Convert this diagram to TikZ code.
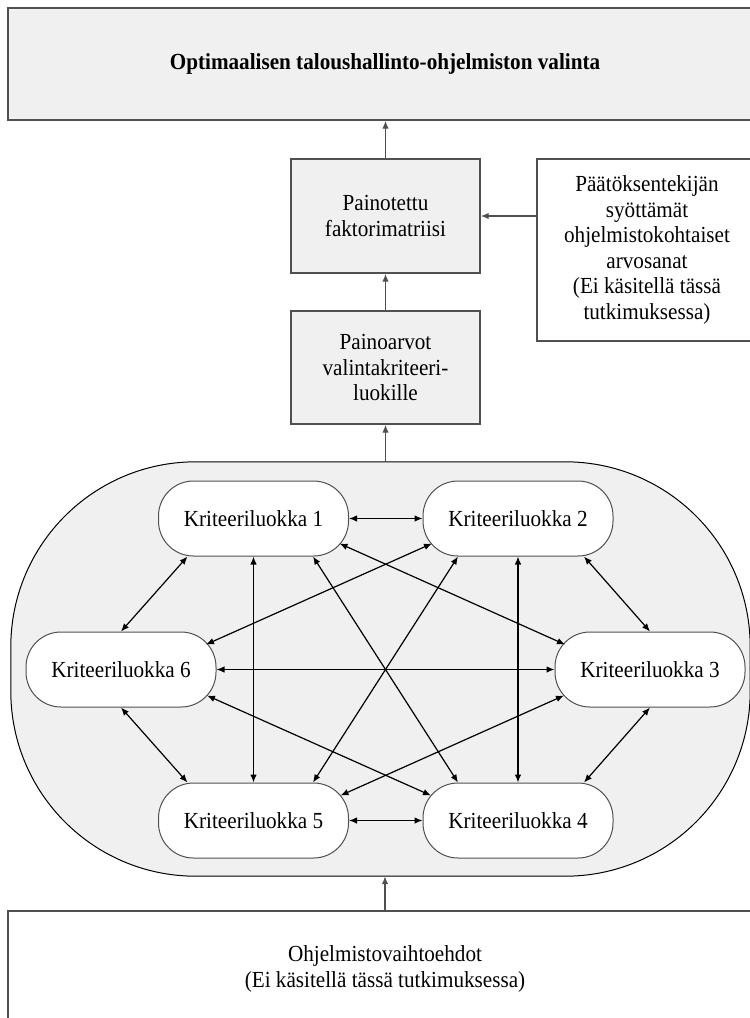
\documentclass[tikz,border=0pt]{standalone}
\usepackage{fontspec}
\setmainfont{Liberation Serif}[FakeStretch=0.92]
\usetikzlibrary{arrows.meta,calc}
\definecolor{boxfill}{HTML}{F0F0F0}
\definecolor{boxline}{HTML}{505050}
\begin{document}
\begin{tikzpicture}[x=1pt,y=-1pt,
  >={Latex[length=8pt,width=6.5pt]},
  every node/.style={font=\fontsize{23}{25.5}\selectfont, align=center, inner sep=0pt},
  greybox/.style={draw=boxline, line width=1.4pt, fill=boxfill},
  whitebox/.style={draw=boxline, line width=1.4pt, fill=white},
  crit/.style={draw=boxline, line width=1pt, fill=white, rounded corners=35pt,
               minimum width=190pt, minimum height=75pt},
  contline/.style={draw=black, line width=1pt, fill=boxfill},
  flow/.style={->, draw=boxline, line width=1.4pt},
  link/.style={<->, line width=1.2pt},
]
\useasboundingbox (0,0) rectangle (750,1018);
\fill[white] (0,0) rectangle (750,1018);

% upper chain
\node[greybox, minimum width=754pt, minimum height=112pt,
      font=\bfseries\fontsize{23}{25.5}\selectfont] (goal) at (385,64)
  {Optimaalisen taloushallinto-ohjelmiston valinta};
\node[greybox, minimum width=189pt, minimum height=114pt] (matrix) at (385.5,216)
  {Painotettu\\faktorimatriisi};
\node[whitebox, minimum width=220pt, minimum height=182pt] (grades) at (647,250)
  {Päätöksentekijän\\syöttämät\\ohjelmistokohtaiset\\arvosanat\\(Ei käsitellä tässä\\tutkimuksessa)};
\node[greybox, minimum width=189pt, minimum height=113pt] (weights) at (385.5,367.5)
  {Painoarvot\\valintakriteeri-\\luokille};

% container (outline drawn explicitly with large corner arcs)
\node[minimum width=739pt, minimum height=414pt] (cont) at (380.5,669) {};
\begin{scope}[y=1pt]
\draw[contline]
  ($(cont.north west)+(185,0)$) -- ($(cont.north east)+(-185,0)$)
  arc[start angle=90, end angle=0, radius=185pt]
  -- ($(cont.south east)+(0,185)$)
  arc[start angle=0, end angle=-90, radius=185pt]
  -- ($(cont.south west)+(185,0)$)
  arc[start angle=270, end angle=180, radius=185pt]
  -- ($(cont.north west)+(0,-185)$)
  arc[start angle=180, end angle=90, radius=185pt]
  -- cycle;
\end{scope}

% criteria classes
\node[crit] (K1) at (253.5,518.5) {Kriteeriluokka 1};
\node[crit] (K2) at (518,518.5)   {Kriteeriluokka 2};
\node[crit] (K3) at (650,669.5)   {Kriteeriluokka 3};
\node[crit] (K4) at (518,820.5)   {Kriteeriluokka 4};
\node[crit] (K5) at (253.5,820.5) {Kriteeriluokka 5};
\node[crit] (K6) at (121,669.5)   {Kriteeriluokka 6};

% bottom box
\node[whitebox, minimum width=754pt, minimum height=116pt] (alts) at (385,969)
  {Ohjelmistovaihtoehdot\\(Ei käsitellä tässä tutkimuksessa)};

% flow arrows
\draw[flow] (matrix.north) -- (matrix.north |- goal.south);
\draw[flow] (matrix.east -| grades.west) -- (matrix.east);
\draw[flow] (weights.north) -- (matrix.south);
\draw[flow] (weights.south |- cont.north) -- (weights.south);
\draw[flow] (alts.north) -- (alts.north |- cont.south);

% links between classes
\draw[link] (K1.east) -- (K2.west);
\draw[link] (K5.east) -- (K4.west);
\draw[link] (K6.east) -- (K3.west);
\draw[link] (K1.south) -- (K5.north);
\draw[link] (K2.south) -- (K4.north);
\draw[link] ($(K1.south)+(-66,0)$) -- (K6.north);
\draw[link] ($(K2.south)+(66,0)$) -- (K3.north);
\draw[link] (K6.south) -- ($(K5.north)+(-66,0)$);
\draw[link] (K3.south) -- ($(K4.north)+(66,0)$);
\draw[link] ($(K1.south)+(59.5,0)$) -- ($(K4.north)+(-60,0)$);
\draw[link] ($(K2.south)+(-60,0)$) -- ($(K5.north)+(59.5,0)$);
\draw[link] ($(K1)+(86,25)$) -- ($(K3)+(-85,-25)$);
\draw[link] ($(K2)+(-86,25)$) -- ($(K6)+(85,-25)$);
\draw[link] ($(K6)+(86,26)$) -- ($(K4)+(-87,-25)$);
\draw[link] ($(K3)+(-86,26)$) -- ($(K5)+(87,-25)$);
\end{tikzpicture}
\end{document}
